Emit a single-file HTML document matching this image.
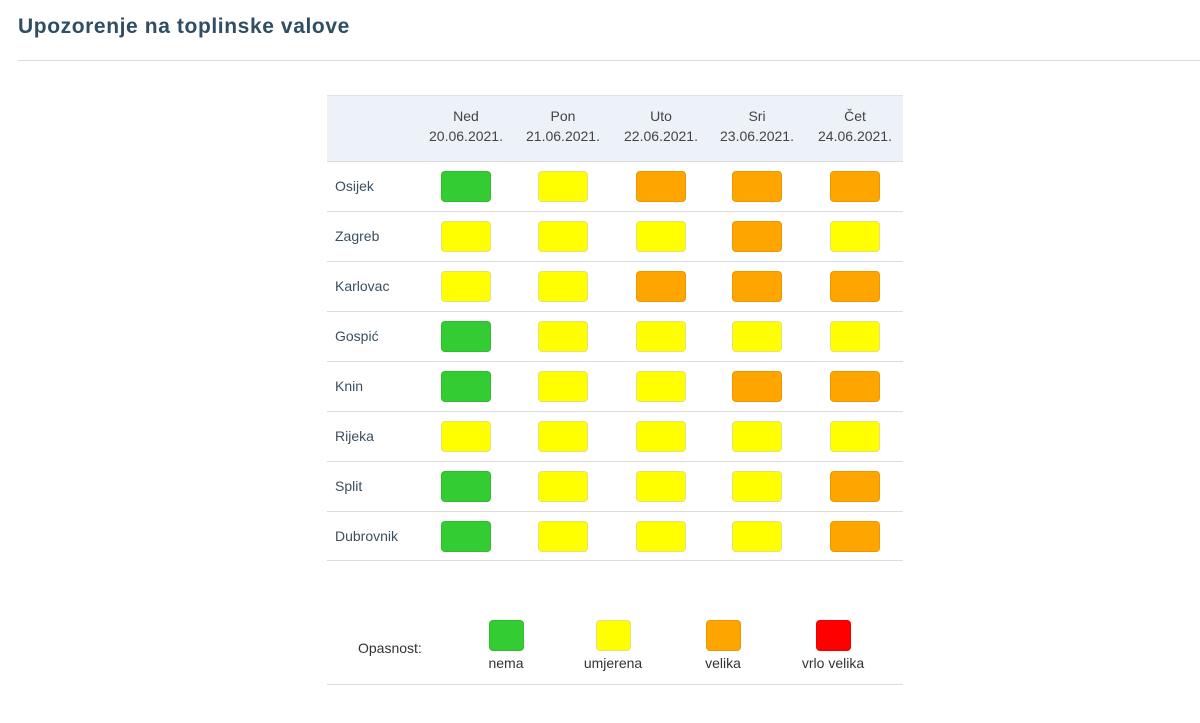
<!DOCTYPE html>
<html><head><meta charset="utf-8"><style>
body{margin:0;width:1200px;height:723px;background:#fff;font-family:"Liberation Sans",sans-serif;position:relative;overflow:hidden}
.a{position:absolute}
.t{left:18px;top:15px;font-size:21px;font-weight:bold;color:#2f4d63;letter-spacing:0.6px}
.hr{left:18px;right:0;top:60px;height:1px;background:#d8d8d8}
.hd{left:327px;top:95px;width:576px;height:66px;background:#edf2f8;border-top:1px solid #dde3ea}
.ln{left:327px;width:576px;height:1px;background:#dcdcdc}
.h{font-size:14px;color:#444;text-align:center;width:98px;line-height:20px}
.c{font-size:14px;color:#3a4f60;left:335px}
.b{width:48px;height:29px;border-radius:4px;border:1px solid rgba(0,0,0,.08)}
.g{background:#33cc33}.y{background:#ffff00;border-color:#e8e070}.o{background:#ffa500}.r{background:#ff0000}
.l{font-size:14px;color:#333;text-align:center;width:100px}
</style></head><body>
<div class="a t">Upozorenje na toplinske valove</div>
<div class="a hr"></div>
<div class="a hd"></div>
<div class="a h" style="left:417px;top:106px">Ned<br>20.06.2021.</div>
<div class="a h" style="left:514px;top:106px">Pon<br>21.06.2021.</div>
<div class="a h" style="left:612px;top:106px">Uto<br>22.06.2021.</div>
<div class="a h" style="left:708px;top:106px">Sri<br>23.06.2021.</div>
<div class="a h" style="left:806px;top:106px">Čet<br>24.06.2021.</div>
<div id="rows"></div>
<div class="a" style="left:358px;top:640px;font-size:14px;color:#333">Opasnost:</div>
<div class="a b g" style="left:489px;top:620px;width:33px;height:29px"></div>
<div class="a b y" style="left:596px;top:620px;width:33px;height:29px"></div>
<div class="a b o" style="left:706px;top:620px;width:33px;height:29px"></div>
<div class="a b r" style="left:816px;top:620px;width:33px;height:29px"></div>
<div class="a l" style="left:456px;top:655px">nema</div>
<div class="a l" style="left:563px;top:655px">umjerena</div>
<div class="a l" style="left:673px;top:655px">velika</div>
<div class="a l" style="left:783px;top:655px">vrlo velika</div>
<div class="a ln" style="top:684px"></div>
<script>
var d=[["Osijek","gyooo"],["Zagreb","yyyoy"],["Karlovac","yyooo"],["Gospić","gyyyy"],["Knin","gyyoo"],["Rijeka","yyyyy"],["Split","gyyyo"],["Dubrovnik","gyyyo"]];
var cx=[466,563,661,757,855],h="";
d.forEach(function(r,i){var top=161+i*50;h+='<div class="a ln" style="top:'+top+'px"></div>';
h+='<div class="a c" style="top:'+(top+17)+'px">'+r[0]+'</div>';
for(var j=0;j<5;j++)h+='<div class="a b '+r[1][j]+'" style="left:'+(cx[j]-25)+'px;top:'+(top+10)+'px"></div>';});
h+='<div class="a ln" style="top:560px"></div>';
document.getElementById("rows").innerHTML=h;
</script>
</body></html>
